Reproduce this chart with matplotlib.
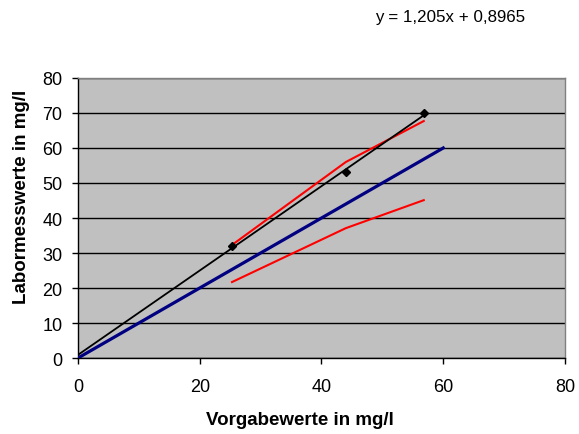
import matplotlib.pyplot as plt
import numpy as np

plt.rcParams['font.family'] = ['Liberation Sans', 'DejaVu Sans']

# Vorgabe vs. Labormesswerte
vorgabe = [25.3, 44.0, 56.8]
labor = [32.0, 53.0, 70.0]

# Toleranzgrenzen
grenze_oben = [32.3, 56.0, 67.7]
grenze_unten = [21.7, 37.1, 45.1]

# Sollgerade y = x
soll_x = [0, 60]
soll_y = [0, 60]

# lineare Regression
steigung = 1.205
achsenabschnitt = 0.8965

fig = plt.figure(figsize=(5.79, 4.35), dpi=100)
ax = fig.add_axes([0.1347, 0.1747, 0.9758 - 0.1347, 0.8184 - 0.1747])
ax.set_facecolor('#C0C0C0')

ax.set_xlim(0, 80)
ax.set_ylim(0, 80)
ax.set_xticks(range(0, 81, 20))
ax.set_yticks(range(0, 81, 10))
ax.yaxis.grid(True, color='black', linewidth=1.0)
ax.set_axisbelow(True)

for s in ['top', 'right']:
    ax.spines[s].set_color('#808080')
    ax.spines[s].set_linewidth(1.0)
for s in ['left', 'bottom']:
    ax.spines[s].set_color('black')
    ax.spines[s].set_linewidth(1.0)

ax.tick_params(direction='out', length=4.3, width=1, labelsize=13, colors='black')
ax.tick_params(axis='x', pad=10)
ax.tick_params(axis='y', pad=7)

ax.plot(soll_x, soll_y, color='#000080', linewidth=2.3, zorder=3)
ax.plot(vorgabe, grenze_oben, color='#FF0000', linewidth=1.5, zorder=3)
ax.plot(vorgabe, grenze_unten, color='#FF0000', linewidth=1.5, zorder=3)

tx = np.array([0, vorgabe[-1]])
ax.plot(tx, steigung * tx + achsenabschnitt, color='black', linewidth=1.3, zorder=4)
ax.plot(vorgabe, labor, linestyle='none', marker='D', markersize=4.5,
        color='black', zorder=5)

# Achsentitel
fig.text(300 / 579, 1 - 421 / 435, 'Vorgabewerte in mg/l', fontsize=13.5,
         fontweight='bold', ha='center', va='center')
fig.text(21.5 / 579, 1 - 196.5 / 435, 'Labormesswerte in mg/l', fontsize=13.5,
         fontweight='bold', ha='center', va='center', rotation=90)

fig.text(375 / 579, 1 - 22 / 435, 'y = 1,205x + 0,8965', fontsize=12.2, va='baseline')

fig.savefig('out.png', dpi=100)
